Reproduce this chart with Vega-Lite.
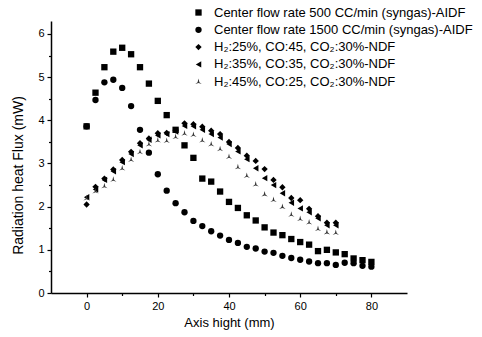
{
  "$schema": "https://vega.github.io/schema/vega-lite/v6.json",
  "width": 356,
  "height": 272,
  "autosize": {"type": "none"},
  "padding": {"left": 51, "top": 21, "right": 75, "bottom": 44},
  "background": "white",
  "config": {
    "view": {"stroke": null},
    "font": "Liberation Sans",
    "axis": {"grid": false, "domainColor": "black", "domainWidth": 1.5, "tickColor": "black", "tickWidth": 1.2, "labelColor": "black", "titleColor": "black", "labelFont": "Liberation Sans", "titleFont": "Liberation Sans", "labelFontSize": 11, "titleFontSize": 13, "titleFontWeight": "normal"}
  },
  "data": {"values": [
    {"s":"A","x":0,"y":3.86},{"s":"A","x":2.5,"y":4.64},{"s":"A","x":5,"y":5.23},{"s":"A","x":7.5,"y":5.59},{"s":"A","x":10,"y":5.68},{"s":"A","x":12.5,"y":5.53},{"s":"A","x":15,"y":5.23},{"s":"A","x":17.5,"y":4.85},{"s":"A","x":20,"y":4.45},{"s":"A","x":22.5,"y":4.12},{"s":"A","x":25,"y":3.78},{"s":"A","x":27.5,"y":3.42},{"s":"A","x":30,"y":3.13},{"s":"A","x":32.5,"y":2.65},{"s":"A","x":35,"y":2.58},{"s":"A","x":37.5,"y":2.35},{"s":"A","x":40,"y":2.11},{"s":"A","x":42.5,"y":1.97},{"s":"A","x":45,"y":1.8},{"s":"A","x":47.5,"y":1.68},{"s":"A","x":50,"y":1.52},{"s":"A","x":52.5,"y":1.4},{"s":"A","x":55,"y":1.34},{"s":"A","x":57.5,"y":1.25},{"s":"A","x":60,"y":1.18},{"s":"A","x":62.5,"y":1.12},{"s":"A","x":65,"y":0.97},{"s":"A","x":67.5,"y":1.0},{"s":"A","x":70,"y":0.94},{"s":"A","x":72.5,"y":0.9},{"s":"A","x":75,"y":0.8},{"s":"A","x":77.5,"y":0.76},{"s":"A","x":80,"y":0.72},
    {"s":"B","x":0,"y":3.86},{"s":"B","x":2.5,"y":4.47},{"s":"B","x":5,"y":4.88},{"s":"B","x":7.5,"y":4.94},{"s":"B","x":10,"y":4.75},{"s":"B","x":12.5,"y":4.33},{"s":"B","x":15,"y":3.78},{"s":"B","x":17.5,"y":3.25},{"s":"B","x":20,"y":2.75},{"s":"B","x":22.5,"y":2.37},{"s":"B","x":25,"y":2.08},{"s":"B","x":27.5,"y":1.87},{"s":"B","x":30,"y":1.67},{"s":"B","x":32.5,"y":1.55},{"s":"B","x":35,"y":1.43},{"s":"B","x":37.5,"y":1.33},{"s":"B","x":40,"y":1.23},{"s":"B","x":42.5,"y":1.16},{"s":"B","x":45,"y":1.07},{"s":"B","x":47.5,"y":1.03},{"s":"B","x":50,"y":0.96},{"s":"B","x":52.5,"y":0.93},{"s":"B","x":55,"y":0.86},{"s":"B","x":57.5,"y":0.81},{"s":"B","x":60,"y":0.77},{"s":"B","x":62.5,"y":0.73},{"s":"B","x":65,"y":0.69},{"s":"B","x":67.5,"y":0.69},{"s":"B","x":70,"y":0.65},{"s":"B","x":72.5,"y":0.7},{"s":"B","x":75,"y":0.69},{"s":"B","x":77.5,"y":0.63},{"s":"B","x":80,"y":0.61},
    {"s":"C","x":0,"y":2.05},{"s":"C","x":2.5,"y":2.46},{"s":"C","x":5,"y":2.65},{"s":"C","x":7.5,"y":2.86},{"s":"C","x":10,"y":3.08},{"s":"C","x":12.5,"y":3.27},{"s":"C","x":15,"y":3.47},{"s":"C","x":17.5,"y":3.58},{"s":"C","x":20,"y":3.7},{"s":"C","x":22.5,"y":3.71},{"s":"C","x":25,"y":3.77},{"s":"C","x":27.5,"y":3.93},{"s":"C","x":30,"y":3.91},{"s":"C","x":32.5,"y":3.85},{"s":"C","x":35,"y":3.76},{"s":"C","x":37.5,"y":3.68},{"s":"C","x":40,"y":3.5},{"s":"C","x":42.5,"y":3.36},{"s":"C","x":45,"y":3.18},{"s":"C","x":47.5,"y":3.06},{"s":"C","x":50,"y":2.87},{"s":"C","x":52.5,"y":2.62},{"s":"C","x":55,"y":2.45},{"s":"C","x":57.5,"y":2.2},{"s":"C","x":60,"y":2.15},{"s":"C","x":62.5,"y":1.95},{"s":"C","x":65,"y":1.78},{"s":"C","x":67.5,"y":1.63},{"s":"C","x":70,"y":1.63},
    {"s":"D","x":0,"y":2.22},{"s":"D","x":2.5,"y":2.4},{"s":"D","x":5,"y":2.62},{"s":"D","x":7.5,"y":2.82},{"s":"D","x":10,"y":3.03},{"s":"D","x":12.5,"y":3.22},{"s":"D","x":15,"y":3.42},{"s":"D","x":17.5,"y":3.55},{"s":"D","x":20,"y":3.65},{"s":"D","x":22.5,"y":3.68},{"s":"D","x":25,"y":3.74},{"s":"D","x":27.5,"y":3.87},{"s":"D","x":30,"y":3.86},{"s":"D","x":32.5,"y":3.78},{"s":"D","x":35,"y":3.68},{"s":"D","x":37.5,"y":3.6},{"s":"D","x":40,"y":3.45},{"s":"D","x":42.5,"y":3.28},{"s":"D","x":45,"y":3.1},{"s":"D","x":47.5,"y":2.89},{"s":"D","x":50,"y":2.66},{"s":"D","x":52.5,"y":2.5},{"s":"D","x":55,"y":2.31},{"s":"D","x":57.5,"y":2.09},{"s":"D","x":60,"y":1.96},{"s":"D","x":62.5,"y":1.87},{"s":"D","x":65,"y":1.73},{"s":"D","x":67.5,"y":1.57},{"s":"D","x":70,"y":1.57},
    {"s":"E","x":0,"y":2.2},{"s":"E","x":2.5,"y":2.36},{"s":"E","x":5,"y":2.48},{"s":"E","x":7.5,"y":2.63},{"s":"E","x":10,"y":2.89},{"s":"E","x":12.5,"y":3.09},{"s":"E","x":15,"y":3.27},{"s":"E","x":17.5,"y":3.45},{"s":"E","x":20,"y":3.54},{"s":"E","x":22.5,"y":3.53},{"s":"E","x":25,"y":3.62},{"s":"E","x":27.5,"y":3.7},{"s":"E","x":30,"y":3.67},{"s":"E","x":32.5,"y":3.54},{"s":"E","x":35,"y":3.45},{"s":"E","x":37.5,"y":3.34},{"s":"E","x":40,"y":3.16},{"s":"E","x":42.5,"y":2.92},{"s":"E","x":45,"y":2.72},{"s":"E","x":47.5,"y":2.52},{"s":"E","x":50,"y":2.29},{"s":"E","x":52.5,"y":2.16},{"s":"E","x":55,"y":2.0},{"s":"E","x":57.5,"y":1.82},{"s":"E","x":60,"y":1.72},{"s":"E","x":62.5,"y":1.64},{"s":"E","x":65,"y":1.49},{"s":"E","x":67.5,"y":1.41},{"s":"E","x":70,"y":1.4}
  ]},
  "layer": [
    {
      "mark": {"type": "point", "filled": true, "opacity": 1},
      "encoding": {
        "x": {"field": "x", "type": "quantitative", "scale": {"domain": [-10, 90], "nice": false, "zero": false}, "axis": {"values": [0, 20, 40, 60, 80], "tickSize": 4, "labelPadding": 3, "title": "Axis hight (mm)", "titlePadding": 5}},
        "y": {"field": "y", "type": "quantitative", "scale": {"domain": [0, 6.3], "nice": false}, "axis": {"values": [0, 1, 2, 3, 4, 5, 6], "tickSize": 4, "labelPadding": 3, "title": "Radiation heat Flux (mW)", "titleFontSize": 14, "titlePadding": 12, "titleY": 154}},
        "shape": {"field": "s", "type": "nominal", "scale": {"domain": ["A", "B", "C", "D", "E"], "range": ["square", "circle", "diamond", "triangle-left", "M0,-1L0.28,0.15L1,0.75L0,0.4L-1,0.75L-0.28,0.15Z"]},
          "legend": {"orient": "none", "legendX": 141, "legendY": -15, "title": null, "padding": 0, "labelFontSize": 13, "labelFont": "Liberation Sans", "labelColor": "black", "labelLimit": 400, "rowPadding": 3.3, "labelOffset": 9,
            "labelExpr": "datum.label == 'A' ? 'Center flow rate 500 CC/min (syngas)-AIDF' : datum.label == 'B' ? 'Center flow rate 1500 CC/min (syngas)-AIDF' : datum.label == 'C' ? 'H₂:25%, CO:45, CO₂:30%-NDF' : datum.label == 'D' ? 'H₂:35%, CO:35, CO₂:30%-NDF' : 'H₂:45%, CO:25, CO₂:30%-NDF'"}},
        "size": {"field": "s", "type": "nominal", "scale": {"domain": ["A", "B", "C", "D", "E"], "range": [40, 40, 60, 45, 55]}},
        "color": {"field": "s", "type": "nominal", "scale": {"domain": ["A", "B", "C", "D", "E"], "range": ["black", "black", "black", "black", "#333333"]}}
      }
    },
    {
      "mark": {"type": "point", "opacity": 0},
      "encoding": {
        "x": {"field": "x", "type": "quantitative", "axis": {"values": [10, 30, 50, 70], "labels": false, "domain": false, "tickSize": 2.5, "title": null, "orient": "bottom"}},
        "y": {"field": "y", "type": "quantitative", "axis": {"values": [0.5, 1.5, 2.5, 3.5, 4.5, 5.5], "labels": false, "domain": false, "tickSize": 2.5, "title": null, "orient": "left"}}
      }
    }
  ],
  "resolve": {"axis": {"x": "independent", "y": "independent"}}
}
